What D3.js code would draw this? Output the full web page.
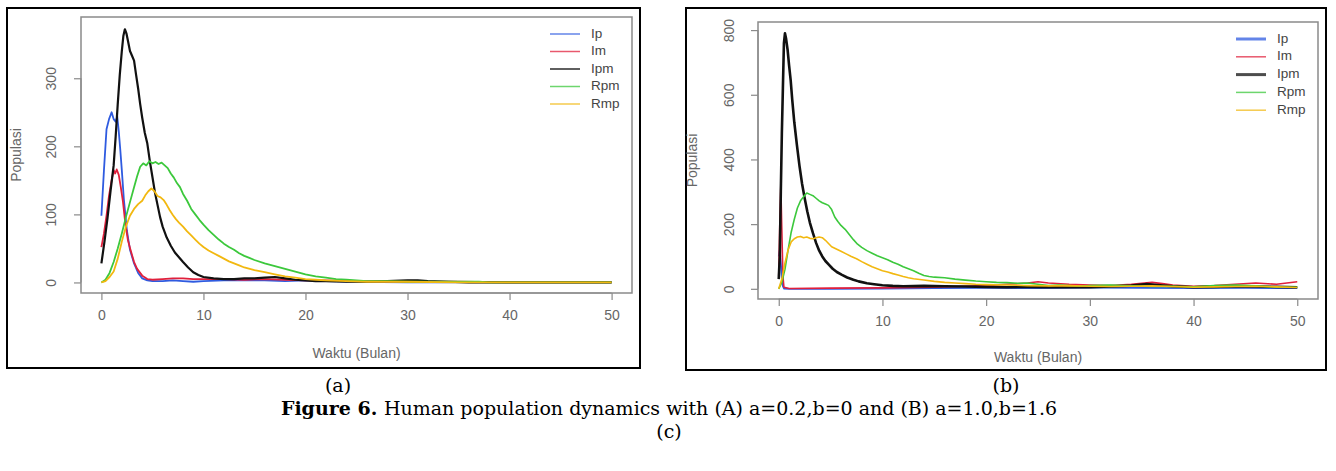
<!DOCTYPE html>
<html>
<head>
<meta charset="utf-8">
<script src="https://cdn.jsdelivr.net/npm/d3@7"></script>
<style>
body{margin:0;background:#fff;}
svg{display:block;}
</style>
</head>
<body>
<div id="chart"></div>
<script>
const seriesNames=["Ip","Im","Ipm","Rpm","Rmp"];
const seriesColors=["#2f5be0","#e0203c","#111111","#3cc83c","#f2b810"];
const xTicks=[0,10,20,30,40,50];
const yTicksA=[0,100,200,300];
const yTicksB=[0,200,400,600,800];

// panel (a): a=0.2, b=0   [t, value]
const ipA=[[0,98],[0.25,165],[0.5,225],[0.75,240],[1.0,250],[1.2,240],[1.4,236],[1.55,244],[1.7,222],[1.85,195],[2.0,165],[2.2,122],[2.5,76],[2.8,48],[3.2,28],[3.6,14],[4.0,6],[4.5,3],[5,2],[6,2],[7,3],[8,2],[9,1],[10,2],[12,3],[14,3],[16,3],[18,2],[20,3],[22,2],[25,1],[30,0],[35,0],[40,0],[50,0]];
const imA=[[0,52],[0.25,72],[0.5,98],[0.75,128],[1.0,150],[1.2,165],[1.35,160],[1.5,166],[1.7,158],[1.9,140],[2.1,120],[2.35,86],[2.6,62],[2.85,48],[3.2,30],[3.5,20],[4.0,10],[4.5,5],[5,4],[6,5],[7,6],[8,6],[9,5],[10,5],[12,5],[14,4],[16,5],[18,4],[20,3],[22,3],[25,2],[30,1],[35,1],[40,0],[50,0]];
const ipmA=[[0,28],[0.3,60],[0.6,95],[0.9,135],[1.2,172],[1.4,215],[1.6,262],[1.8,305],[2.0,340],[2.15,362],[2.3,372],[2.45,366],[2.6,355],[2.8,340],[3.0,333],[3.2,326],[3.4,305],[3.6,285],[3.8,262],[4.0,242],[4.25,220],[4.5,204],[4.75,178],[5.0,155],[5.25,132],[5.5,114],[5.75,96],[6.0,82],[6.4,66],[6.8,54],[7.2,44],[7.6,37],[8.0,30],[8.5,22],[9.0,15],[9.5,11],[10,8],[11,6],[12,5],[13,5],[14,6],[15,6],[16,7],[17,8],[18,6],[19,4],[20,3],[21,2],[22,2],[24,1],[26,1],[28,2],[30,3],[31,3],[32,2],[34,1],[36,0],[40,0],[50,0]];
const rpmA=[[0,0],[0.4,4],[0.8,14],[1.2,30],[1.6,50],[2.0,72],[2.4,96],[2.8,118],[3.2,140],[3.5,156],[3.8,170],[4.1,175],[4.4,172],[4.7,178],[5.0,175],[5.3,177],[5.6,174],[5.9,176],[6.2,172],[6.5,168],[6.8,160],[7.1,154],[7.4,146],[7.7,140],[8.0,130],[8.4,120],[8.8,108],[9.2,100],[9.6,92],[10,85],[10.5,77],[11,70],[11.5,63],[12,57],[12.5,52],[13,48],[13.5,43],[14,39],[14.5,36],[15,33],[16,28],[17,24],[18,20],[19,16],[20,12],[21,9],[22,7],[23,5],[24,4],[25,3],[26,2],[28,2],[30,1],[33,1],[37,1],[38,0],[50,0]];
const rmpA=[[0,0],[0.4,2],[0.8,8],[1.2,16],[1.6,35],[2.0,60],[2.4,82],[2.8,98],[3.2,108],[3.6,115],[4.0,120],[4.3,128],[4.6,134],[4.9,138],[5.2,134],[5.5,127],[5.8,125],[6.1,121],[6.4,114],[6.7,106],[7.0,99],[7.3,93],[7.6,88],[8.0,82],[8.4,75],[8.8,69],[9.2,63],[9.6,57],[10,52],[10.5,47],[11,43],[11.5,39],[12,35],[12.5,31],[13,28],[13.5,25],[14,22],[15,18],[16,15],[17,12],[18,9],[19,7],[20,5],[21,4],[22,3],[24,2],[26,1],[30,1],[35,0],[40,0],[45,0],[50,0]];

// panel (b): a=1.0, b=1.6   [t, value]
const ipB=[[0,100],[0.1,120],[0.2,80],[0.3,35],[0.4,8],[0.5,1],[1,0],[5,0],[10,1],[15,2],[20,3],[25,2],[30,4],[35,3],[40,2],[45,3],[50,2]];
const imB=[[0,40],[0.1,200],[0.2,320],[0.3,180],[0.4,40],[0.5,5],[1,1],[5,2],[10,3],[15,5],[18,8],[20,10],[22,14],[24,18],[25,22],[26,18],[28,14],[30,12],[32,10],[34,14],[36,20],[37,16],[38,12],[40,8],[42,10],[44,14],[46,18],[48,14],[50,22]];
const ipmB=[[0,30],[0.1,100],[0.2,300],[0.3,480],[0.4,620],[0.5,760],[0.6,790],[0.7,775],[0.85,740],[1.0,690],[1.15,645],[1.3,585],[1.5,515],[1.75,445],[2.0,380],[2.25,325],[2.5,280],[2.75,240],[3.0,205],[3.3,172],[3.6,142],[3.9,118],[4.2,100],[4.5,86],[4.85,74],[5.2,62],[5.6,52],[6.1,43],[6.6,35],[7.2,28],[7.7,23],[8.5,17],[9.2,14],[10,11],[11,9],[12,8],[14,9],[16,8],[18,7],[20,6],[22,5],[24,6],[26,5],[28,6],[30,5],[32,7],[34,10],[35.5,15],[36.5,12],[38,8],[40,5],[42,6],[44,8],[46,7],[48,6],[50,5]];
const rpmB=[[0,0],[0.3,20],[0.6,60],[0.9,120],[1.2,175],[1.5,215],[1.8,250],[2.1,272],[2.4,285],[2.7,296],[3.0,292],[3.3,288],[3.6,280],[3.9,272],[4.2,266],[4.5,262],[4.8,258],[5.1,245],[5.4,222],[5.7,208],[6.0,196],[6.4,184],[6.8,168],[7.2,152],[7.6,138],[8.0,128],[8.5,118],[9.0,110],[9.5,102],[10,96],[10.5,90],[11,82],[11.5,76],[12,68],[12.5,62],[13,56],[13.5,48],[14,41],[14.5,38],[15,36],[16,34],[17,30],[18,27],[19,24],[20,22],[21,20],[22,19],[23,17],[24,18],[25,14],[26,10],[27,12],[28,10],[29,8],[30,10],[32,12],[34,9],[36,7],[38,8],[40,6],[42,10],[44,12],[46,9],[48,5],[50,5]];
const rmpB=[[0,0],[0.3,30],[0.6,80],[0.9,120],[1.2,145],[1.5,155],[1.8,160],[2.1,162],[2.4,158],[2.7,160],[3.0,156],[3.3,155],[3.6,158],[3.9,160],[4.2,158],[4.5,150],[4.8,140],[5.1,130],[5.5,124],[6.0,116],[6.5,108],[7.0,100],[7.5,93],[8.0,84],[8.5,76],[9.0,68],[9.5,62],[10,56],[10.5,52],[11,47],[11.5,43],[12,38],[12.5,34],[13,31],[14,27],[15,23],[16,20],[17,18],[18,16],[19,14],[20,13],[22,12],[24,10],[26,9],[28,10],[30,8],[32,7],[34,8],[36,9],[38,7],[40,5],[42,6],[44,7],[46,8],[48,6],[50,4]];

const captionA="(a)";
const captionB="(b)";
const captionMain="Human population dynamics with (A) a=0.2,b=0 and (B) a=1.0,b=1.6";
const captionC="(c)";

const svg=d3.select("#chart").append("svg").attr("width",1336).attr("height",471);
const sans="'Liberation Sans',Arial,sans-serif";
const serif="'DejaVu Serif',serif";

function drawPanel(p){
  // outer frame
  svg.append("rect").attr("x",p.frame[0]).attr("y",p.frame[1])
    .attr("width",p.frame[2]).attr("height",p.frame[3])
    .attr("fill","none").attr("stroke","#000").attr("stroke-width",2);

  const x=d3.scaleLinear().domain([-2,52]).range([p.box[0],p.box[2]]);
  const y=d3.scaleLinear().domain(p.yDom).range([p.box[3],p.box[1]]);
  const g=svg.append("g");

  const line=d3.line().x(d=>x(d[0])).y(d=>y(d[1]));
  p.data.forEach((s,i)=>{
    g.append("path").datum(s)
      .attr("fill","none")
      .attr("stroke",seriesColors[i])
      .attr("stroke-width",p.widths[i])
      .attr("stroke-linejoin","round")
      .attr("d",line);
  });

  // plot box
  g.append("rect").attr("x",p.box[0]).attr("y",p.box[1])
    .attr("width",p.box[2]-p.box[0]).attr("height",p.box[3]-p.box[1])
    .attr("fill","none").attr("stroke","#8a8a8a").attr("stroke-width",1.5);

  const ax=g.append("g").attr("transform",`translate(0,${p.box[3]})`)
    .call(d3.axisBottom(x).tickValues(xTicks).tickSize(7).tickPadding(10).tickFormat(d3.format("d")));
  ax.select(".domain").attr("stroke","#8a8a8a").attr("stroke-width",1.2).attr("d",`M${x(0)},0H${x(50)}`);
  ax.selectAll(".tick line").attr("stroke","#8a8a8a").attr("stroke-width",1.2);
  ax.selectAll("text").attr("fill","#666").style("font-family",sans).style("font-size","14px");

  const ay=g.append("g").attr("transform",`translate(${p.box[0]},0)`)
    .call(d3.axisLeft(y).tickValues(p.yTicks).tickSize(7).tickPadding(0).tickFormat(d3.format("d")));
  ay.select(".domain").attr("stroke","#8a8a8a").attr("stroke-width",1.2).attr("d",`M0,${y(p.yTicks[0])}V${y(p.yTicks[p.yTicks.length-1])}`);
  ay.selectAll(".tick line").attr("stroke","#8a8a8a").attr("stroke-width",1.2);
  ay.selectAll("text").attr("fill","#666").style("font-family",sans).style("font-size","14px")
    .attr("text-anchor","middle").attr("x",0).attr("dy",0)
    .attr("transform",`translate(${-p.tickLabelOff},0) rotate(-90)`)
    .attr("dominant-baseline","middle");

  g.append("text").attr("x",(p.box[0]+p.box[2])/2).attr("y",p.xLabelY)
    .attr("text-anchor","middle").attr("fill","#666")
    .style("font-family",sans).style("font-size","14px").text("Waktu (Bulan)");
  g.append("text").attr("transform",`translate(${p.yLabelX},${(p.box[1]+p.box[3])/2}) rotate(-90)`)
    .attr("text-anchor","middle").attr("dominant-baseline","middle").attr("fill","#666")
    .style("font-family",sans).style("font-size","14px").text("Populasi");

  // legend
  const lg=g.append("g");
  lg.append("rect").attr("x",p.legend[0]).attr("y",p.legend[1])
    .attr("width",p.box[2]-p.legend[0]).attr("height",p.legend[2]-p.legend[1])
    .attr("fill","#fff").attr("stroke","#777").attr("stroke-width",1.2);
  seriesNames.forEach((n,i)=>{
    const ly=p.legendY0+i*p.legendStep;
    lg.append("line").attr("x1",p.legend[0]+14).attr("x2",p.legend[0]+44)
      .attr("y1",ly).attr("y2",ly)
      .attr("stroke",seriesColors[i]).attr("stroke-width",p.legendWidths[i]).attr("stroke-opacity",0.75);
    lg.append("text").attr("x",p.legend[0]+55).attr("y",ly)
      .attr("dominant-baseline","middle").attr("fill","#444")
      .style("font-family",sans).style("font-size","13.5px").text(n);
  });
}

drawPanel({
  frame:[7,8,633,360],
  box:[81,17,632,293],
  yDom:[-15.5,390],
  yTicks:yTicksA,
  data:[ipA,imA,ipmA,rpmA,rmpA],
  widths:[1.8,1.8,2.2,1.8,1.8],
  legendWidths:[1.5,1.5,1.8,1.5,1.5],
  tickLabelOff:29,
  xLabelY:358,
  yLabelX:17,
  legend:[536,118],
  legendY0:34,
  legendStep:17.5
});

drawPanel({
  frame:[686,8,640,362],
  box:[758,22,1318,299],
  yDom:[-31.5,825],
  yTicks:yTicksB,
  data:[ipB,imB,ipmB,rpmB,rmpB],
  widths:[1.8,1.6,2.6,1.6,1.6],
  legendWidths:[3,1.5,3,1.5,1.5],
  tickLabelOff:28,
  xLabelY:362,
  yLabelX:693,
  legend:[1222,126],
  legendY0:39,
  legendStep:17.8
});

// captions
svg.append("text").attr("x",338).attr("y",392).attr("text-anchor","middle")
  .style("font-family",serif).style("font-size","19px").attr("fill","#000").text(captionA);
svg.append("text").attr("x",1006).attr("y",392).attr("text-anchor","middle")
  .style("font-family",serif).style("font-size","19px").attr("fill","#000").text(captionB);
const cap=svg.append("text").attr("x",669).attr("y",415).attr("text-anchor","middle")
  .style("font-family",serif).style("font-size","19px").attr("fill","#000");
cap.append("tspan").attr("font-weight","bold").text("Figure 6. ");
cap.append("tspan").text(captionMain);
svg.append("text").attr("x",669).attr("y",438).attr("text-anchor","middle")
  .style("font-family",serif).style("font-size","19px").attr("fill","#000").text(captionC);
</script>
</body>
</html>
